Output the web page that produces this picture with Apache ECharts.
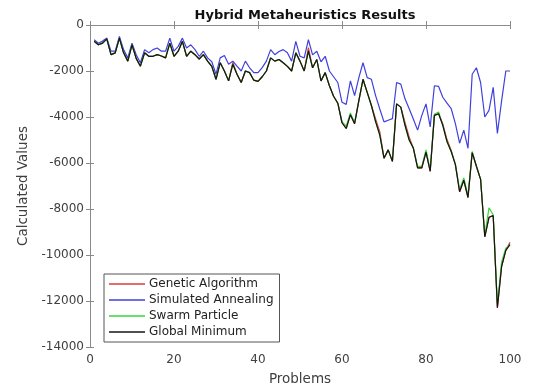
<!DOCTYPE html>
<html>
<head>
<meta charset="utf-8">
<script src="https://cdn.jsdelivr.net/npm/echarts@6/dist/echarts.min.js"></script>
<style>html,body{margin:0;padding:0;background:#fff;overflow:hidden}#c{width:554px;height:391px}</style>
</head>
<body>
<div id="c"></div>
<script>
var problems = [];
for (var k = 1; k <= 100; k++) problems.push(k);

var globalMin = [-710,-860,-790,-600,-1290,-1210,-570,-1210,-1570,-860,
-1450,-1790,-1210,-1360,-1360,-1290,-1350,-1430,-790,-1360,
-1140,-710,-1360,-1140,-1290,-1480,-1290,-1570,-1800,-2360,
-1640,-2000,-2430,-1710,-2140,-2500,-2000,-2070,-2400,-2450,
-2250,-2000,-1430,-1570,-1500,-1640,-1800,-2000,-1210,-1570,
-2000,-1140,-1860,-1500,-2430,-2070,-2640,-3100,-3400,-4250,
-4500,-3900,-4290,-3300,-2360,-2930,-3500,-4200,-4790,-5790,
-5430,-5930,-3430,-3570,-4360,-5000,-5360,-6210,-6210,-5530,
-6360,-3930,-3860,-4360,-5070,-5500,-6070,-7250,-6750,-7500,
-5550,-6140,-6710,-9210,-8360,-8290,-12290,-10500,-9800,-9550];

var simulatedAnnealing = [-640,-790,-700,-570,-1140,-1140,-500,-1070,-1430,-790,
-1290,-1640,-1070,-1210,-1070,-1000,-1140,-1140,-570,-1140,
-930,-570,-1000,-860,-1070,-1360,-1140,-1430,-1600,-2140,
-1430,-1330,-1710,-1570,-1790,-2000,-1570,-1860,-2070,-2070,
-1850,-1570,-1070,-1290,-1150,-1070,-1210,-1570,-710,-1360,
-1430,-640,-1300,-1140,-1600,-1360,-2000,-2250,-2500,-3360,
-3450,-2430,-3070,-2300,-1640,-2290,-2360,-3070,-3650,-4210,
-4140,-4070,-2500,-2570,-3210,-3640,-4100,-4570,-3930,-3430,
-4430,-2640,-2670,-3140,-3400,-3640,-4290,-5140,-4570,-5360,
-2140,-1860,-2500,-4000,-3710,-2710,-4710,-3300,-2000,-2000];

var geneticAlgorithm = [-710,-860,-790,-600,-1290,-1210,-570,-1210,-1570,-860,
-1450,-1790,-1210,-1360,-1360,-1290,-1350,-1430,-790,-1360,
-1140,-710,-1360,-1140,-1290,-1480,-1290,-1570,-1800,-2360,
-1640,-2000,-2430,-1620,-2140,-2500,-2000,-2070,-2400,-2450,
-2250,-2000,-1430,-1570,-1500,-1640,-1800,-2000,-1210,-1570,
-2000,-980,-1860,-1500,-2430,-2070,-2640,-3100,-3400,-4250,
-4500,-3900,-4290,-3300,-2360,-2930,-3500,-4080,-4650,-5790,
-5430,-5930,-3430,-3570,-4230,-4880,-5360,-6210,-6210,-5530,
-6360,-3930,-3860,-4300,-4980,-5450,-6070,-7250,-6750,-7500,
-5550,-6140,-6710,-9210,-8360,-8290,-12290,-10500,-9800,-9450];

var swarmParticle = [-710,-860,-790,-600,-1290,-1210,-570,-1210,-1570,-860,
-1450,-1790,-1210,-1360,-1360,-1290,-1350,-1430,-790,-1360,
-1140,-710,-1360,-1140,-1290,-1480,-1290,-1570,-1800,-2360,
-1640,-2000,-2430,-1710,-2140,-2500,-2000,-2070,-2400,-2450,
-2250,-2000,-1430,-1570,-1500,-1640,-1800,-2000,-1210,-1570,
-2000,-1140,-1860,-1500,-2430,-2070,-2640,-3100,-3400,-4200,
-4400,-3820,-4250,-3300,-2360,-2930,-3500,-4200,-4790,-5790,
-5430,-5930,-3430,-3570,-4360,-5000,-5360,-6150,-6150,-5430,
-6300,-3880,-3780,-4360,-5070,-5500,-6070,-7150,-6650,-7420,
-5500,-6140,-6710,-9150,-7950,-8250,-12150,-10300,-9700,-9550];

var xTicks = [0, 20, 40, 60, 80, 100];
var yTicks = [-14000, -12000, -10000, -8000, -6000, -4000, -2000, 0];

function pairs(arr) { return arr.map(function (v, i) { return [problems[i], v]; }); }

var chart = echarts.init(document.getElementById('c'), null, { renderer: 'canvas', width: 554, height: 391 });
var font = 'DejaVu Sans';
var axisGray = '#8a8a8a';
var labelColor = '#404040';

function mkSeries(name, data, color) {
  return {
    name: name, type: 'line', data: pairs(data), xAxisIndex: 0, yAxisIndex: 0,
    showSymbol: false, symbol: 'none', animation: false,
    lineStyle: { color: color, width: 1.2 }, itemStyle: { color: color }
  };
}

chart.setOption({
  animation: false,
  backgroundColor: '#fff',
  title: {
    text: 'Hybrid Metaheuristics Results', left: 300, top: 4, textAlign: 'center',
    textStyle: { fontFamily: font, fontSize: 13, fontWeight: 'bold', color: '#111' }
  },
  grid: { left: 90, right: 44, top: 25, bottom: 39, containLabel: false },
  legend: {
    orient: 'vertical', left: 104, top: 274, icon: 'rect', itemWidth: 36, itemHeight: 1.5,
    itemGap: 4, padding: [4, 6, 4, 5], borderColor: '#555', borderWidth: 1, backgroundColor: '#fff',
    textStyle: { fontFamily: font, fontSize: 12, color: '#222', padding: [0, 0, 0, -1] },
    data: ['Genetic Algorithm', 'Simulated Annealing', 'Swarm Particle', 'Global Minimum']
  },
  xAxis: [{
    type: 'value', min: xTicks[0], max: xTicks[xTicks.length - 1], interval: 20, position: 'bottom',
    name: 'Problems', nameLocation: 'middle', nameGap: 25,
    nameTextStyle: { fontFamily: font, fontSize: 13.5, color: labelColor },
    axisLine: { show: true, lineStyle: { color: axisGray, width: 1 } },
    axisTick: { show: true, inside: true, length: 4, lineStyle: { color: axisGray } },
    axisLabel: { fontFamily: font, fontSize: 12, color: labelColor, margin: 7 },
    splitLine: { show: false }
  }, {
    type: 'value', min: xTicks[0], max: xTicks[xTicks.length - 1], interval: 20, position: 'top',
    axisLine: { show: true, lineStyle: { color: axisGray, width: 1 } },
    axisTick: { show: true, inside: true, length: 4, lineStyle: { color: axisGray } },
    axisLabel: { show: false }, splitLine: { show: false }
  }],
  yAxis: [{
    type: 'value', min: yTicks[0], max: yTicks[yTicks.length - 1], interval: 2000, position: 'left',
    name: 'Calculated Values', nameLocation: 'middle', nameGap: 57, nameRotate: 90,
    nameTextStyle: { fontFamily: font, fontSize: 13.5, color: labelColor },
    axisLine: { show: true, lineStyle: { color: axisGray, width: 1 } },
    axisTick: { show: true, inside: true, length: 4, lineStyle: { color: axisGray } },
    axisLabel: { fontFamily: font, fontSize: 12, color: labelColor, margin: 6, formatter: function (v) { return String(v); } },
    splitLine: { show: false }
  }, {
    type: 'value', min: yTicks[0], max: yTicks[yTicks.length - 1], interval: 2000, position: 'right',
    axisLine: { show: true, lineStyle: { color: axisGray, width: 1 } },
    axisTick: { show: true, inside: true, length: 4, lineStyle: { color: axisGray } },
    axisLabel: { show: false }, splitLine: { show: false }
  }],
  series: [
    mkSeries('Genetic Algorithm', geneticAlgorithm, '#e03a3a'),
    mkSeries('Simulated Annealing', simulatedAnnealing, '#4040dd'),
    mkSeries('Swarm Particle', swarmParticle, '#3ad43a'),
    mkSeries('Global Minimum', globalMin, '#151515')
  ]
});
</script>
</body>
</html>
